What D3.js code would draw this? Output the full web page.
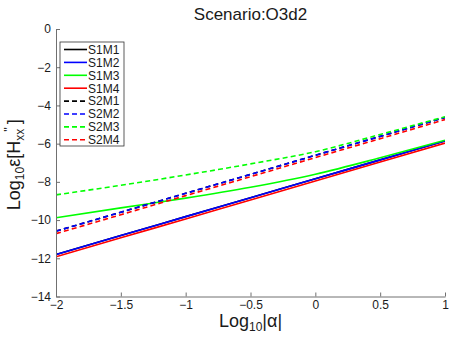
<!DOCTYPE html>
<html>
<head>
<meta charset="utf-8">
<script src="https://cdn.jsdelivr.net/npm/d3@7"></script>
<style>
  body { margin: 0; background: #fff; }
  text { font-family: "Liberation Sans", Arial, sans-serif; fill: #1a1a1a; }
</style>
</head>
<body>
<div id="chart"></div>
<script>
// values (log10 alpha -> log10 error)
var xs = [-2, -1.5, -1, -0.5, 0, 0.5, 1];
var seriesNames = ["S1M1", "S1M2", "S1M3", "S1M4", "S2M1", "S2M2", "S2M3", "S2M4"];
var seriesColors = ["#000000", "#0000ff", "#00ff00", "#ff0000", "#000000", "#0000ff", "#00ff00", "#ff0000"];
var seriesDashed = [false, false, false, false, true, true, true, true];
var S1M1 = [-11.80, -10.81, -9.82, -8.83, -7.84, -6.85, -5.86];
var S1M2 = [-11.80, -10.81, -9.82, -8.83, -7.84, -6.85, -5.86];
var S1M3 = [-9.88, -9.36, -8.85, -8.28, -7.60, -6.74, -5.82];
var S1M4 = [-11.92, -10.93, -9.94, -8.95, -7.96, -6.96, -5.97];
var S2M1 = [-10.58, -9.59, -8.60, -7.61, -6.61, -5.62, -4.63];
var S2M2 = [-10.58, -9.59, -8.60, -7.61, -6.61, -5.62, -4.63];
var S2M3 = [-8.68, -8.18, -7.64, -7.06, -6.42, -5.52, -4.59];
var S2M4 = [-10.71, -9.72, -8.72, -7.73, -6.73, -5.74, -4.74];
var allSeries = [S1M1, S1M2, S1M3, S1M4, S2M1, S2M2, S2M3, S2M4];
var xTicks = [-2, -1.5, -1, -0.5, 0, 0.5, 1];
var yTicks = [-14, -12, -10, -8, -6, -4, -2, 0];

var W = 450, H = 338;
var pl = 56, pr = 445, pt = 29, pb = 296.5;   // plot box

var svg = d3.select("#chart").append("svg")
    .attr("width", W)
    .attr("height", H);

var x = d3.scaleLinear().domain([-2, 1]).range([pl, pr]);
var y = d3.scaleLinear().domain([-14, 0]).range([pb, pt]);

svg.append("clipPath").attr("id", "clip")
  .append("rect")
    .attr("x", pl).attr("y", pt)
    .attr("width", pr - pl).attr("height", pb - pt);

var fmt = function(d) { return String(d).replace("-", "\u2212"); };

// lines
var line = d3.line()
    .x(function(d, i) { return x(xs[i]); })
    .y(function(d) { return y(d); })
    .curve(d3.curveMonotoneX);

svg.append("g").attr("clip-path", "url(#clip)")
  .selectAll("path")
  .data(allSeries)
  .enter()
  .append("path")
    .attr("d", line)
    .attr("fill", "none")
    .attr("stroke", function(d, i) { return seriesColors[i]; })
    .attr("stroke-width", 1.6)
    .attr("stroke-dasharray", function(d, i) { return seriesDashed[i] ? "5,3.2" : null; });

// axes
var xAxis = svg.append("g")
    .attr("transform", "translate(0," + pb + ")")
    .call(d3.axisBottom(x).tickValues(xTicks).tickFormat(fmt).tickSizeInner(-4).tickSizeOuter(0).tickPadding(4));
var yAxis = svg.append("g")
    .attr("transform", "translate(" + pl + ",0)")
    .call(d3.axisLeft(y).tickValues(yTicks).tickFormat(fmt).tickSizeInner(-4).tickSizeOuter(0).tickPadding(5));

[xAxis, yAxis].forEach(function(g) {
  g.select(".domain").attr("stroke", "#707070");
  g.selectAll(".tick line").attr("stroke", "#707070");
  g.selectAll(".tick text")
    .style("font-family", "Liberation Sans, Arial, sans-serif")
    .style("font-size", "12px")
    .attr("fill", "#1a1a1a");
});

// title
svg.append("text")
    .attr("x", (pl + pr) / 2)
    .attr("y", 20)
    .attr("text-anchor", "middle")
    .style("font-size", "17px")
    .text("Scenario:O3d2");

// x label
var xl = svg.append("text")
    .attr("x", (pl + pr) / 2)
    .attr("y", 327)
    .attr("text-anchor", "middle")
    .style("font-size", "18px");
xl.append("tspan").text("Log");
xl.append("tspan").attr("dy", 4).style("font-size", "12px").text("10");
xl.append("tspan").attr("dy", -4).text("|\u03b1|");

// y label
var yl = svg.append("text")
    .attr("transform", "translate(20," + ((pt + pb) / 2 + 2) + ") rotate(-90)")
    .attr("text-anchor", "middle")
    .style("font-size", "18px");
yl.append("tspan").text("Log");
yl.append("tspan").attr("dy", 4).style("font-size", "12px").text("10");
yl.append("tspan").attr("dy", -4).text("\u03b5[H");
yl.append("tspan").attr("dy", 4).style("font-size", "12px").text("xx");
yl.append("tspan").attr("dy", -11).attr("dx", -3).style("font-size", "12px").text("''");
yl.append("tspan").attr("dy", 7).attr("dx", 3).text("]");

// legend
var lg = svg.append("g").attr("transform", "translate(60,42)");
lg.append("rect")
    .attr("width", 64).attr("height", 104)
    .attr("fill", "#fff")
    .attr("stroke", "#333")
    .attr("stroke-width", 0.8);
var item = lg.selectAll("g.item")
  .data(seriesNames)
  .enter()
  .append("g")
    .attr("class", "item")
    .attr("transform", function(d, i) { return "translate(0," + (7.5 + i * 12.9) + ")"; });
item.append("line")
    .attr("x1", 4).attr("x2", 27)
    .attr("stroke", function(d, i) { return seriesColors[i]; })
    .attr("stroke-width", 1.6)
    .attr("stroke-dasharray", function(d, i) { return seriesDashed[i] ? "5,3" : null; });
item.append("text")
    .attr("x", 28)
    .attr("dy", "0.36em")
    .style("font-size", "12px")
    .text(function(d) { return d; });
</script>
</body>
</html>
